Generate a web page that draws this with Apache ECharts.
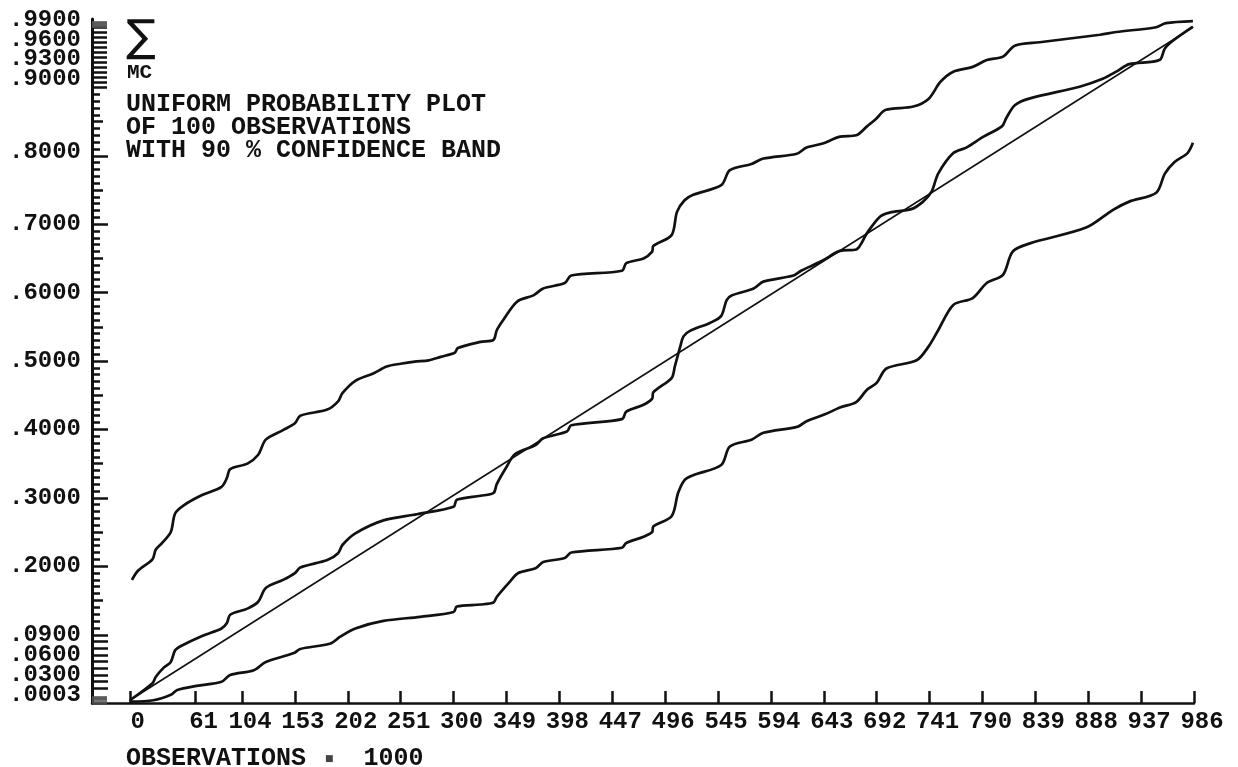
<!DOCTYPE html>
<html>
<head>
<meta charset="utf-8">
<script src="https://cdn.jsdelivr.net/npm/echarts@6/dist/echarts.min.js"></script>
<style>
  html, body { margin: 0; padding: 0; background: #fff; }
  #chart { width: 1238px; height: 767px; }
</style>
</head>
<body>
<div id="chart"></div>
<script>
// x in observations*1000, y in probability
var xTicks = [0, 61, 104, 153, 202, 251, 300, 349, 398, 447, 496, 545, 594, 643, 692, 741, 790, 839, 888, 937, 986];
var yLabelPos = [0.0117, 0.041, 0.070, 0.0994, 0.2, 0.3, 0.4, 0.5, 0.6, 0.7, 0.805, 0.912, 0.9415, 0.970, 0.9986];
var yLabelText = ['.0003', '.0300', '.0600', '.0900', '.2000', '.3000', '.4000', '.5000', '.6000', '.7000', '.8000', '.9000', '.9300', '.9600', '.9900'];
var yMajor = [0.2, 0.3, 0.4, 0.5, 0.6, 0.7, 0.8];

var diagonal = [[0, 0.004], [985, 0.988]];

var upperBand = [
  [2, 0.180], [8, 0.194], [21, 0.210], [24, 0.224], [30, 0.234], [38, 0.250], [42, 0.277], [50, 0.289],
  [67, 0.304], [85, 0.316], [90, 0.329], [93, 0.342], [109, 0.350], [119, 0.363], [126, 0.385], [142, 0.399],
  [153, 0.409], [158, 0.420], [183, 0.429], [193, 0.441], [197, 0.453], [209, 0.471], [226, 0.482], [238, 0.492],
  [251, 0.496], [264, 0.499], [277, 0.501], [288, 0.506], [301, 0.512], [304, 0.519], [325, 0.528], [337, 0.531],
  [340, 0.545], [346, 0.560], [359, 0.587], [374, 0.596], [383, 0.606], [403, 0.614], [409, 0.625], [456, 0.632],
  [460, 0.643], [476, 0.650], [484, 0.660], [485, 0.668], [502, 0.684], [507, 0.718], [514, 0.735], [522, 0.743],
  [548, 0.757], [556, 0.779], [576, 0.788], [587, 0.796], [618, 0.803], [627, 0.812], [642, 0.818], [658, 0.828],
  [673, 0.830], [683, 0.843], [692, 0.855], [700, 0.867], [726, 0.872], [740, 0.883], [751, 0.908], [763, 0.923],
  [781, 0.930], [794, 0.940], [809, 0.945], [820, 0.961], [843, 0.966], [899, 0.977], [914, 0.981], [951, 0.988],
  [960, 0.994], [985, 0.997]
];

var observed = [
  [0, 0.004], [21, 0.029], [24, 0.038], [31, 0.051], [38, 0.060], [42, 0.077], [47, 0.083], [67, 0.098],
  [85, 0.109], [90, 0.117], [93, 0.129], [109, 0.138], [119, 0.148], [126, 0.168], [142, 0.180], [153, 0.190],
  [158, 0.198], [183, 0.209], [193, 0.219], [197, 0.231], [209, 0.248], [235, 0.267], [266, 0.276], [300, 0.287],
  [303, 0.297], [325, 0.303], [337, 0.307], [340, 0.320], [349, 0.345], [357, 0.364], [376, 0.377], [383, 0.387],
  [405, 0.397], [409, 0.406], [456, 0.415], [460, 0.426], [476, 0.436], [484, 0.445], [485, 0.454], [502, 0.475],
  [505, 0.492], [510, 0.521], [513, 0.536], [519, 0.544], [538, 0.556], [548, 0.566], [553, 0.589], [558, 0.596],
  [578, 0.606], [587, 0.616], [615, 0.625], [622, 0.632], [630, 0.638], [642, 0.647], [658, 0.661], [673, 0.663],
  [683, 0.687], [695, 0.711], [704, 0.717], [724, 0.722], [735, 0.733], [743, 0.748], [749, 0.774], [763, 0.804],
  [775, 0.812], [791, 0.828], [808, 0.843], [812, 0.855], [820, 0.874], [834, 0.884], [880, 0.901], [902, 0.913],
  [914, 0.923], [926, 0.934], [954, 0.940], [959, 0.957], [967, 0.969], [985, 0.989]
];

var lowerBand = [
  [0, 0.002], [22, 0.004], [38, 0.012], [44, 0.019], [62, 0.025], [85, 0.031], [93, 0.041], [115, 0.048],
  [126, 0.060], [152, 0.073], [158, 0.079], [186, 0.087], [195, 0.097], [209, 0.109], [235, 0.120], [269, 0.126],
  [300, 0.133], [303, 0.141], [325, 0.144], [337, 0.147], [340, 0.155], [352, 0.177], [360, 0.190], [376, 0.197],
  [383, 0.206], [403, 0.212], [409, 0.220], [456, 0.227], [460, 0.234], [476, 0.243], [484, 0.250], [485, 0.258],
  [502, 0.273], [508, 0.307], [514, 0.326], [522, 0.333], [548, 0.348], [556, 0.375], [576, 0.385], [587, 0.395],
  [619, 0.404], [627, 0.412], [644, 0.422], [658, 0.432], [673, 0.440], [683, 0.458], [692, 0.468], [701, 0.489],
  [729, 0.501], [740, 0.521], [749, 0.545], [763, 0.582], [781, 0.592], [794, 0.614], [809, 0.626], [818, 0.660],
  [834, 0.672], [886, 0.695], [911, 0.721], [926, 0.733], [951, 0.746], [959, 0.774], [968, 0.791], [980, 0.804],
  [985, 0.819]
];

// tick decoration positions for the left scale
var yMedium = [];
var yMinor = [];
for (var i = 11; i <= 89; i++) {
  if (i % 10 === 0) continue;
  if (i % 5 === 0) yMedium.push(i / 100);
  else yMinor.push(i / 100);
}
var yDenseTop = [];
for (var k = 0; k <= 12; k++) yDenseTop.push((703 - (27 + 5 * k)) / 684);
var yDenseBottom = [];
for (var k = 0; k <= 8; k++) yDenseBottom.push((703 - (635 + 6.67 * k)) / 684);
var yBlocks = [];
for (var k = 0; k <= 5; k++) { yBlocks.push(0.9885 + k * 0.0015); yBlocks.push(0.0005 + k * 0.0018); }

var monoFont = '"Liberation Mono", "DejaVu Sans Mono", monospace';
var ink = '#111';

function tickAxis(values, len, width, color, withLine) {
  return {
    type: 'value', min: 0, max: 1, position: 'left',
    axisLine: { show: !!withLine, onZero: false, lineStyle: { color: ink, width: 3 } },
    axisTick: { show: true, inside: true, length: len, customValues: values,
      lineStyle: { color: color || ink, width: width } },
    axisLabel: { show: false },
    splitLine: { show: false }
  };
}

function yLabelFormatter(v) {
  for (var j = 0; j < yLabelPos.length; j++) {
    if (Math.abs(yLabelPos[j] - v) < 1e-6) return yLabelText[j];
  }
  return '';
}

// labels are stacked tightly, so alternate them over two axes to keep them all visible
function labelAxis(parity, ticks, len, withLine) {
  var ax = tickAxis(ticks, len, 2.5, ink, withLine);
  ax.axisLabel = {
    show: true, margin: 11,
    customValues: yLabelPos.filter(function(p, j) { return j % 2 === parity; }),
    showMinLabel: true, showMaxLabel: true, hideOverlap: false,
    fontFamily: monoFont, fontSize: 24, fontWeight: 'bold', color: ink, lineHeight: 18,
    formatter: yLabelFormatter
  };
  return ax;
}

var chart = echarts.init(document.getElementById('chart'));

var option = {
  backgroundColor: '#fff',
  animation: false,
  grid: { left: 92, right: 44, top: 19, bottom: 64, containLabel: false, outerBoundsMode: 'none' },
  xAxis: {
    type: 'value', min: -35, max: 986,
    axisLine: { show: true, onZero: false, lineStyle: { color: ink, width: 2.5 } },
    axisTick: { show: true, inside: true, length: 12, customValues: xTicks, lineStyle: { color: ink, width: 2.5 } },
    axisLabel: {
      customValues: xTicks, margin: 7, padding: [0, 0, 0, 16],
      showMinLabel: true, showMaxLabel: true,
      fontFamily: monoFont, fontSize: 24, fontWeight: 'bold', color: ink,
      formatter: function(v) { return String(v); }
    },
    splitLine: { show: false }
  },
  yAxis: [
    labelAxis(0, yMajor, 16, true),
    labelAxis(1, yMedium, 11, false),
    tickAxis(yMinor, 8, 2.5),
    tickAxis(yDenseTop, 15, 2.5),
    tickAxis(yDenseBottom, 16, 2.5),
    tickAxis(yBlocks, 15, 1.6, '#555')
  ],
  graphic: [
    { type: 'text', left: 126, top: 18, style: { text: '\u2211', font: '44px "DejaVu Sans"', fill: ink } },
    { type: 'text', left: 127, top: 62, style: { text: 'MC', font: 'bold 21px ' + monoFont, fill: ink } },
    { type: 'text', left: 126, top: 92, style: {
      text: 'UNIFORM PROBABILITY PLOT\nOF 100 OBSERVATIONS\nWITH 90 % CONFIDENCE BAND',
      font: 'bold 25px ' + monoFont, lineHeight: 23, fill: ink } },
    { type: 'text', left: 126, top: 746, style: {
      text: '{a|OBSERVATIONS }{s|\u25A0}{a|  1000}',
      rich: {
        a: { fontFamily: monoFont, fontSize: 25, fontWeight: 'bold', fill: ink },
        s: { fontFamily: 'DejaVu Sans', fontSize: 9, fill: '#444', padding: [0, 0, 0, 4] }
      } } }
  ],
  series: [
    { type: 'line', data: diagonal, showSymbol: false, silent: true,
      lineStyle: { color: ink, width: 1.6 } },
    { type: 'line', data: upperBand, showSymbol: false, smooth: 0.3, silent: true,
      lineStyle: { color: ink, width: 2.7 } },
    { type: 'line', data: observed, showSymbol: false, smooth: 0.3, silent: true,
      lineStyle: { color: ink, width: 2.7 } },
    { type: 'line', data: lowerBand, showSymbol: false, smooth: 0.3, silent: true,
      lineStyle: { color: ink, width: 2.7 } }
  ]
};

chart.setOption(option);
</script>
</body>
</html>
